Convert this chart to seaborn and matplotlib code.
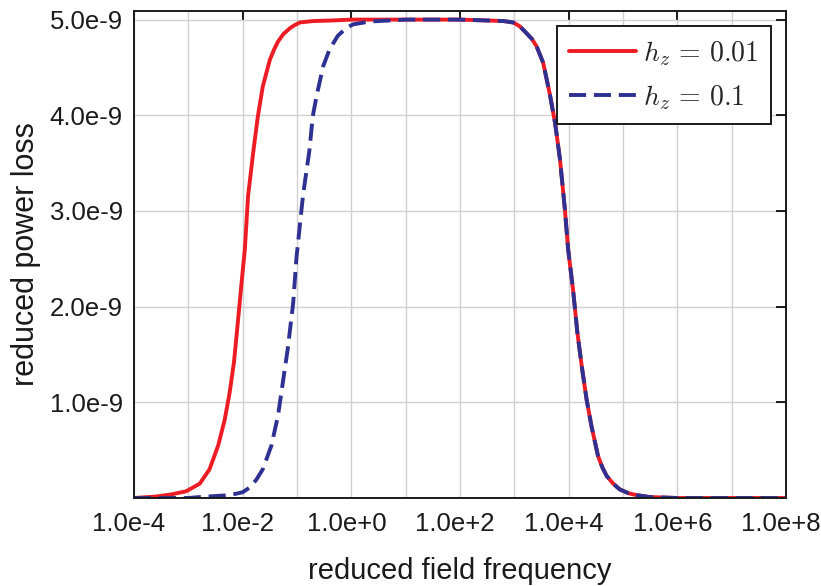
import numpy as np
import pandas as pd
import matplotlib
matplotlib.use("Agg")
import matplotlib.pyplot as plt
import matplotlib.ticker as mticker
import matplotlib.transforms as mtransforms
import seaborn as sns

# ---- data (log10 of reduced frequency, power loss in units of 1e-9)
red_logf = [-4.0, -3.6, -3.34, -3.04, -2.79, -2.61, -2.45, -2.33, -2.24, -2.16, -2.09,
            -2.02, -1.96, -1.90, -1.80, -1.72, -1.63, -1.50, -1.42, -1.35, -1.25,
            -1.13, -1.05, -0.95, -0.70, -0.40, 0.0, 1.0, 2.0, 2.55, 2.80,
            2.98, 3.10, 3.22, 3.32, 3.41, 3.53, 3.65, 3.75, 3.84, 3.93,
            3.99, 4.08, 4.16, 4.24, 4.33, 4.42, 4.54, 4.62, 4.70, 4.82,
            4.94, 5.10, 5.25, 5.49, 6.0, 7.0, 8.0]
red_loss = [0.00, 0.015, 0.035, 0.07, 0.15, 0.30, 0.55, 0.82, 1.10, 1.42, 1.83,
            2.25, 2.60, 3.16, 3.64, 3.99, 4.30, 4.58, 4.69, 4.77, 4.85,
            4.91, 4.94, 4.97, 4.985, 4.99, 5.00, 5.00, 5.00, 4.99, 4.985,
            4.97, 4.93, 4.86, 4.80, 4.72, 4.55, 4.23, 3.92, 3.54, 3.02,
            2.60, 2.18, 1.73, 1.38, 1.03, 0.75, 0.44, 0.32, 0.23, 0.15,
            0.09, 0.05, 0.03, 0.01, 0.00, 0.00, 0.00]

blue_logf = [-4.0, -3.0, -2.79, -2.24, -2.0, -1.87, -1.75, -1.63, -1.47, -1.35,
             -1.26, -1.17, -1.07, -1.01, -0.89, -0.77, -0.71, -0.64, -0.52, -0.40,
             -0.25, -0.10, 0.03, 0.34, 1.0, 2.0, 2.55, 2.80,
             2.98, 3.10, 3.22, 3.32, 3.41, 3.53, 3.65, 3.75, 3.84, 3.93,
             3.99, 4.08, 4.16, 4.24, 4.33, 4.42, 4.54, 4.62, 4.70, 4.82,
             4.94, 5.10, 5.25, 5.49, 6.0, 7.0, 8.0]
blue_loss = [0.00, 0.00, 0.01, 0.03, 0.06, 0.11, 0.19, 0.30, 0.55, 0.86,
             1.21, 1.56, 2.04, 2.51, 3.16, 3.64, 3.99, 4.20, 4.51, 4.69,
             4.83, 4.91, 4.95, 4.98, 5.00, 5.00, 4.99, 4.985,
             4.97, 4.93, 4.86, 4.80, 4.72, 4.55, 4.23, 3.92, 3.54, 3.02,
             2.60, 2.18, 1.73, 1.38, 1.03, 0.75, 0.44, 0.32, 0.23, 0.15,
             0.09, 0.05, 0.03, 0.01, 0.00, 0.00, 0.00]

series_labels = [r"$h_z\, =\, 0.01$", r"$h_z\, =\, 0.1$"]
x_tick_exps = [-4, -2, 0, 2, 4, 6, 8]
x_tick_labels = ["1.0e-4", "1.0e-2", "1.0e+0", "1.0e+2", "1.0e+4", "1.0e+6", "1.0e+8"]
y_tick_vals = [1, 2, 3, 4, 5]
y_tick_labels = ["1.0e-9", "2.0e-9", "3.0e-9", "4.0e-9", "5.0e-9"]

df = pd.concat([
    pd.DataFrame({"freq": 10.0 ** np.array(red_logf), "loss": np.array(red_loss) * 1e-9,
                  "series": series_labels[0]}),
    pd.DataFrame({"freq": 10.0 ** np.array(blue_logf), "loss": np.array(blue_loss) * 1e-9,
                  "series": series_labels[1]}),
], ignore_index=True)

sns.set_theme(style="white")
plt.rcParams["font.family"] = ["Liberation Sans", "DejaVu Sans"]
plt.rcParams["mathtext.fontset"] = "cm"
plt.rcParams["lines.solid_joinstyle"] = "round"
plt.rcParams["lines.dash_joinstyle"] = "round"

fig = plt.figure(figsize=(8.21, 5.86), dpi=100)
ax = fig.add_axes([134 / 821, 1 - 498 / 586, (786 - 134) / 821, (498 - 11) / 586])

palette = {series_labels[0]: "#ED1C24", series_labels[1]: "#2E3192"}
sns.lineplot(data=df, x="freq", y="loss", hue="series", style="series",
             palette=palette, dashes={series_labels[0]: "", series_labels[1]: (4.4, 2.0)},
             linewidth=2.8, ax=ax, sort=False, estimator=None)

ax.set_xscale("log")
ax.set_xlim(1e-4, 1e8)
ax.set_ylim(0, 5.09e-9)

ax.xaxis.set_major_locator(mticker.FixedLocator([10.0 ** e for e in x_tick_exps]))
ax.xaxis.set_major_formatter(mticker.FixedFormatter(x_tick_labels))
ax.xaxis.set_minor_locator(mticker.FixedLocator([10.0 ** e for e in range(-3, 8, 2)]))
ax.xaxis.set_minor_formatter(mticker.NullFormatter())
ax.set_yticks([v * 1e-9 for v in y_tick_vals])
ax.set_yticklabels(y_tick_labels)

ax.grid(True, which="major", color="#d0d0d0", linewidth=1.0)
ax.grid(True, which="minor", axis="x", color="#d0d0d0", linewidth=1.0)
ax.set_axisbelow(True)

ax.tick_params(axis="both", which="major", direction="in", length=7, width=1.4,
               color="#1a1a1a", top=True, right=True, labelsize=18.5, labelcolor="#1a1a1a")
ax.tick_params(axis="x", which="major", pad=10)
ax.tick_params(axis="y", which="major", pad=8)
ax.tick_params(axis="x", which="minor", length=0, top=False, bottom=False)
for s in ax.spines.values():
    s.set_visible(True)
    s.set_color("#1a1a1a")
    s.set_linewidth(1.4)

# shift x tick labels slightly left like the reference
shift = mtransforms.ScaledTranslation(-5 / 100, 0, fig.dpi_scale_trans)
for lab in ax.get_xticklabels():
    lab.set_transform(lab.get_transform() + shift)

ax.set_xlabel("reduced field frequency", fontsize=21, color="#1a1a1a", labelpad=15)
ax.set_ylabel("reduced power loss", fontsize=22, color="#1a1a1a", labelpad=6)

leg = ax.legend(loc="upper right", fontsize=20, frameon=True, fancybox=False,
                framealpha=1, edgecolor="#1a1a1a", handlelength=2.4,
                borderpad=0.45, labelspacing=0.55, handletextpad=0.25,
                borderaxespad=0.55, title=None)
leg.get_frame().set_linewidth(1.4)

fig.savefig("out.png", dpi=100)
